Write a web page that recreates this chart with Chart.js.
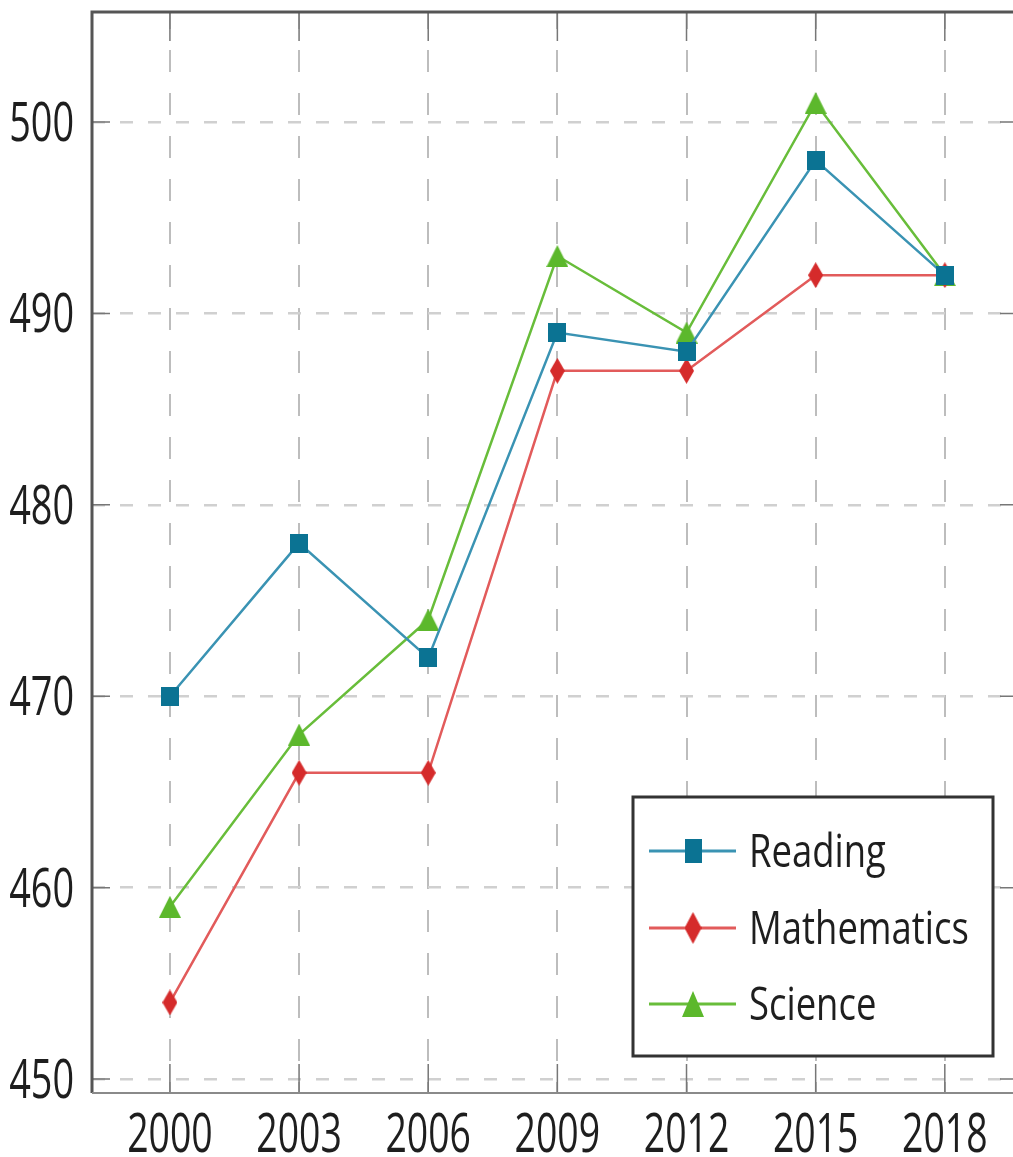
<!DOCTYPE html>
<html lang="en">
<head>
<meta charset="UTF-8">
<title>PISA scores</title>
<script src="https://cdn.jsdelivr.net/npm/chart.js"></script>
<style>
    html, body { margin: 0; padding: 0; background: #fff; overflow: hidden; }
    #wrap { width: 1040px; height: 1157px; }
</style>
</head>
<body>
<div id="wrap"><canvas id="chart" width="1040" height="1157"></canvas></div>
<script>
    // data
    const years = [2000, 2003, 2006, 2009, 2012, 2015, 2018];
    const reading = [470, 478, 472, 489, 488, 498, 492];
    const mathematics = [454, 466, 466, 487, 487, 492, 492];
    const science = [459, 468, 474, 493, 489, 501, 492];
    const yTicks = [450, 460, 470, 480, 490, 500];

    const FONT = "'Open Sans', 'DejaVu Sans', sans-serif";

    // marker images (the diamond in the original is tall and thin)
    function makeMarker(shape, w, h, color) {
        const c = document.createElement('canvas');
        c.width = w; c.height = h;
        const g = c.getContext('2d');
        g.fillStyle = color;
        g.beginPath();
        if (shape === 'square') {
            g.rect(0, 0, w, h);
        } else if (shape === 'diamond') {
            g.moveTo(w / 2, 0); g.lineTo(w, h / 2); g.lineTo(w / 2, h); g.lineTo(0, h / 2);
        } else {
            g.moveTo(w / 2, 0); g.lineTo(w, h); g.lineTo(0, h);
        }
        g.closePath();
        g.fill();
        return c;
    }

    const toPoints = arr => arr.map((v, i) => ({ x: years[i], y: v }));

    // the original uses a narrow face, so text is squeezed sideways
    function narrowText(ctx, text, x, y, size, sx, align) {
        ctx.save();
        ctx.translate(x, y);
        ctx.scale(sx, 1);
        ctx.font = size + 'px ' + FONT;
        ctx.fillStyle = '#1e1e1e';
        ctx.textAlign = align;
        ctx.textBaseline = 'alphabetic';
        ctx.fillText(text, 0, 0);
        ctx.restore();
    }

    // frame, inner ticks and tick labels
    const framePlugin = {
        id: 'frame',
        afterDraw(chart) {
            const { ctx, chartArea: a, scales } = chart;
            ctx.save();
            ctx.strokeStyle = '#777';
            ctx.lineWidth = 1.5;
            ctx.beginPath();
            scales.x.ticks.forEach(t => {
                const px = scales.x.getPixelForValue(t.value);
                ctx.moveTo(px, a.top); ctx.lineTo(px, a.top + 29);
                ctx.moveTo(px, a.bottom); ctx.lineTo(px, a.bottom - 29);
            });
            scales.y.ticks.forEach(t => {
                const py = scales.y.getPixelForValue(t.value);
                ctx.moveTo(a.left, py); ctx.lineTo(a.left + 18, py);
                ctx.moveTo(a.right, py); ctx.lineTo(a.right - 18, py);
            });
            ctx.stroke();

            ctx.lineWidth = 3;
            ctx.strokeStyle = '#555';
            ctx.beginPath();
            ctx.moveTo(a.right, a.top); ctx.lineTo(a.left, a.top); ctx.lineTo(a.left, a.bottom);
            ctx.stroke();
            ctx.lineWidth = 2;
            ctx.strokeStyle = '#8a8a8a';
            ctx.beginPath();
            ctx.moveTo(a.left, a.bottom); ctx.lineTo(a.right, a.bottom);
            ctx.stroke();
            ctx.restore();

            scales.x.ticks.forEach(t => {
                const px = scales.x.getPixelForValue(t.value);
                narrowText(ctx, String(t.value), px, a.bottom + 59, 55, 0.68, 'center');
            });
            scales.y.ticks.forEach(t => {
                const py = scales.y.getPixelForValue(t.value);
                narrowText(ctx, String(t.value), a.left - 18, py + 19, 54, 0.70, 'right');
            });
        }
    };

    // legend box drawn inside the plot
    const legendPlugin = {
        id: 'boxLegend',
        afterDraw(chart) {
            const ctx = chart.ctx;
            const box = { x: 633, y: 797, w: 360, h: 259 };
            const rows = [851, 928, 1004];
            ctx.save();
            ctx.fillStyle = '#fff';
            ctx.fillRect(box.x, box.y, box.w, box.h);
            ctx.strokeStyle = '#333';
            ctx.lineWidth = 3;
            ctx.strokeRect(box.x, box.y, box.w, box.h);
            chart.data.datasets.forEach((ds, i) => {
                const y = rows[i];
                ctx.strokeStyle = ds.borderColor;
                ctx.lineWidth = 3;
                ctx.beginPath();
                ctx.moveTo(649, y); ctx.lineTo(736, y);
                ctx.stroke();
                const img = ds.legendMarker;
                ctx.drawImage(img, 693 - img.width / 2, y - img.height / 2);
                narrowText(ctx, ds.label, 749, y + 16, 45, 0.81, 'left');
            });
            ctx.restore();
        }
    };

    const ctx = document.getElementById('chart').getContext('2d');
    new Chart(ctx, {
        type: 'line',
        data: {
            datasets: [
                {
                    label: 'Reading',
                    data: toPoints(reading),
                    borderColor: '#3a93b3',
                    borderWidth: 2.5,
                    pointStyle: makeMarker('square', 18, 19, '#0b7393'),
                    legendMarker: makeMarker('square', 17, 24, '#0b7393'),
                },
                {
                    label: 'Mathematics',
                    data: toPoints(mathematics),
                    borderColor: '#e25b5b',
                    borderWidth: 2.5,
                    pointStyle: makeMarker('diamond', 15, 26, '#d52b2b'),
                    legendMarker: makeMarker('diamond', 17, 32, '#d52b2b'),
                },
                {
                    label: 'Science',
                    data: toPoints(science),
                    borderColor: '#68bd3a',
                    borderWidth: 2.5,
                    pointStyle: makeMarker('triangle', 22, 22, '#5cb82c'),
                    legendMarker: makeMarker('triangle', 22, 26, '#5cb82c'),
                },
            ],
        },
        options: {
            responsive: false,
            animation: false,
            layout: { padding: { top: 12, right: 22, left: 0, bottom: 0 } },
            plugins: { legend: { display: false }, tooltip: { enabled: false } },
            scales: {
                x: {
                    type: 'linear',
                    min: 1998.19,
                    max: 2019.7,
                    afterBuildTicks: s => { s.ticks = years.map(v => ({ value: v })); },
                    afterFit: s => { s.height = 64; s.paddingLeft = 0; s.paddingRight = 0; },
                    ticks: { display: false },
                    grid: { color: '#bdbdbd', lineWidth: 2, drawTicks: false },
                    border: { display: false, dash: [22, 21], dashOffset: 5 },
                },
                y: {
                    min: 449.27,
                    max: 505.75,
                    afterBuildTicks: s => { s.ticks = yTicks.map(v => ({ value: v })); },
                    afterFit: s => { s.width = 92; s.paddingTop = 0; s.paddingBottom = 0; },
                    ticks: { display: false },
                    grid: { color: '#d0d0d0', lineWidth: 2.5, drawTicks: false },
                    border: { display: false, dash: [13, 15] },
                },
            },
        },
        plugins: [framePlugin, legendPlugin],
    });
</script>
</body>
</html>
